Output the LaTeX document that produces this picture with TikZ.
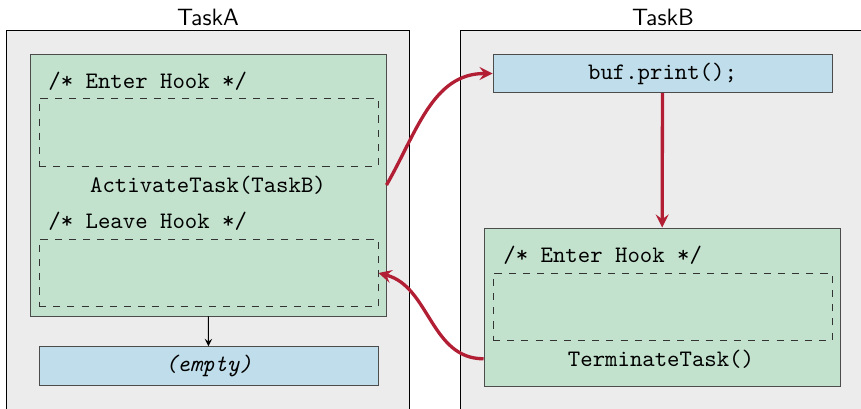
\documentclass[tikz,border=0pt]{standalone}
\usetikzlibrary{positioning}
\usetikzlibrary{arrows.meta}
\definecolor{task grey}{RGB}{236,236,236}
\definecolor{hook green}{RGB}{194,226,205}
\definecolor{code blue}{RGB}{191,221,234}
\definecolor{switch red}{RGB}{178,30,52}
\colorlet{task colour}{task grey}
\colorlet{body colour}{hook green}
\colorlet{call colour}{code blue}
\colorlet{edge colour}{black!70}
\tikzset{
    % Stealth tips everywhere
    >=stealth,
%
    % Task frames and their titles
    task frame/.style={
        draw, rectangle, fill=task colour, minimum height=165pt},
    task label/.style={font=\sffamily},
%
    % Boxes inside a task
    body/.style={
        draw=edge colour, rectangle, fill=body colour,
        minimum width=150.7pt},
    hook/.style={
        draw=black!80, dashed, rectangle,
        minimum width=143.5pt, minimum height=28.6pt},
    call/.style={
        draw=edge colour, rectangle, fill=call colour,
        minimum width=143.5pt, minimum height=16.3pt, font=\ttfamily},
    code/.style={font=\ttfamily, inner sep=0pt},
%
    % Connectors
    switch/.style={color=switch red, line width=1.4pt, ->},
    flow/.style={thin, black, ->},
}

\begin{document}
\begin{tikzpicture}[x=0.4233pt, y=-0.4233pt]

\useasboundingbox (0,0) rectangle (861,408);

% the two tasks
\path
    (208,225) node [task frame, minimum width=170.2pt] (taskA) {}
    (208,17) node [task label] (titleA) {TaskA}
    (670.5,225) node [task frame, minimum width=177.4pt] (taskB) {}
    (663,17) node [task label] (titleB) {TaskB};

% TaskA
\path
    (208,185) node [body, minimum height=110.9pt] (bodyA) {}
    (208.5,132.5) node [hook] (enterHookA) {}
    (208.5,273) node [hook] (leaveHookA) {}
    (208.5,366) node [call] (empty) {\textit{(empty)}};
\node [code, anchor=base west] (enterA) at (48,88) {/* Enter Hook */};
\node [code, anchor=base] (activate) at (208,192) {ActivateTask(TaskB)};
\node [code, anchor=base west] (leaveA) at (48,228) {/* Leave Hook */};

% TaskB
\path
    (662.5,73.5) node [call] (print) {buf.print();}
    (662,307) node [body, minimum height=66.9pt] (bodyB) {}
    (662.5,307) node [hook] (enterHookB) {};
\node [code, anchor=base west] (enterB) at (503,262) {/* Enter Hook */};
\node [code, anchor=base] (terminate) at (661,366) {TerminateTask()};

\draw [flow] (bodyA) -- (empty);
\draw [switch] (bodyA.east) to [out=60, in=180] (print.west);
\draw [switch] (print) -- (bodyB);
\draw [switch] (bodyB.west |- terminate) to [out=180, in=-15] (leaveHookA.east);

\end{tikzpicture}
\end{document}
